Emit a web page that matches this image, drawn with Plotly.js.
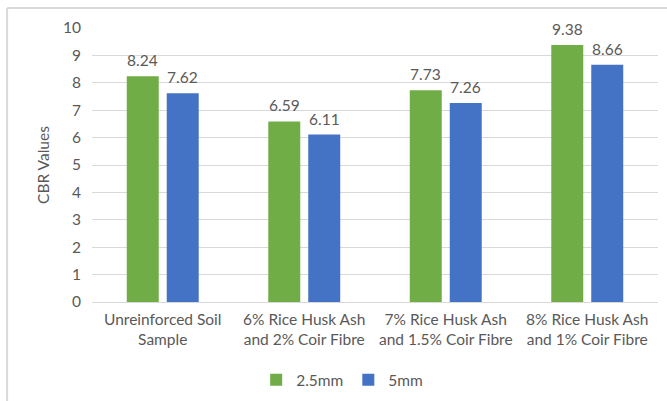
<!DOCTYPE html>
<html>
<head>
<meta charset="utf-8">
<script src="https://cdn.plot.ly/plotly-3.0.1.min.js"></script>
<style>
  html, body { margin: 0; padding: 0; background: #fff; }
  #chart { width: 667px; height: 401px; }
</style>
</head>
<body>
<div id="chart"></div>
<script>
// CBR test results for each soil mix
const categories = [
  "Unreinforced Soil<br>Sample",
  "6% Rice Husk Ash<br>and 2% Coir Fibre",
  "7% Rice Husk Ash<br>and 1.5% Coir Fibre",
  "8% Rice Husk Ash<br>and 1% Coir Fibre"
];
const seriesNames = ["2.5mm", "5mm"];
const cbr25 = [8.24, 6.59, 7.73, 9.38];
const cbr50 = [7.62, 6.11, 7.26, 8.66];
const yTicks = [0, 1, 2, 3, 4, 5, 6, 7, 8, 9, 10];

const FONT = "Lato, 'Open Sans', sans-serif";
const TEXT = "#595959";
const GRID = "#D9D9D9";
const GREEN = "#70AD47";
const BLUE = "#4472C4";

const traces = [
  { type: "bar", name: seriesNames[0], x: categories, y: cbr25,
    marker: { color: GREEN }, hoverinfo: "skip" },
  { type: "bar", name: seriesNames[1], x: categories, y: cbr50,
    marker: { color: BLUE }, hoverinfo: "skip" }
];

// value labels above each bar
const annotations = [];
[cbr25, cbr50].forEach((vals, s) => {
  vals.forEach((v, i) => {
    annotations.push({
      x: categories[i], y: v, xref: "x", yref: "y",
      text: v.toFixed(2), showarrow: false,
      xanchor: "center", yanchor: "bottom",
      xshift: s === 0 ? -20 : 20, yshift: 5,
      font: { family: FONT, size: 15.5, color: TEXT }
    });
  });
});

const layout = {
  width: 667, height: 401,
  margin: { l: 92, r: 9, t: 28, b: 99 },
  paper_bgcolor: "#fff", plot_bgcolor: "#fff",
  barmode: "group", bargap: 0.435, bargroupgap: 0.2,
  font: { family: FONT, size: 15, color: TEXT },
  xaxis: {
    type: "category", showgrid: false, zeroline: false,
    showline: false, ticks: "", ticklabelstandoff: 6, automargin: false,
    tickfont: { family: FONT, size: 15.5, color: TEXT }
  },
  yaxis: {
    range: [0, 10], tickvals: yTicks, ticktext: yTicks.map(String),
    showgrid: true, gridcolor: GRID, gridwidth: 1,
    zeroline: true, zerolinecolor: GRID, zerolinewidth: 1,
    showline: false, ticks: "", ticklabelstandoff: 10, automargin: false,
    tickfont: { family: FONT, size: 15.5, color: TEXT },
    title: { text: "CBR Values", standoff: 9,
             font: { family: FONT, size: 15.5, color: TEXT } }
  },
  legend: {
    orientation: "h", x: 0.442, xanchor: "center",
    yref: "container", y: 0.052, yanchor: "middle",
    font: { family: FONT, size: 15.5, color: TEXT },
    itemwidth: 30, traceorder: "normal"
  },
  annotations: annotations,
  shapes: [
    // chart frame
    { type: "line", xref: "paper", yref: "paper",
      x0: -0.15, x1: -0.15, y0: 1.073, y1: -0.5,
      line: { color: GRID, width: 2 } },
    { type: "line", xref: "paper", yref: "paper",
      x0: -0.15, x1: 1.1, y0: 1.073, y1: 1.073,
      line: { color: GRID, width: 2 } }
  ],
  showlegend: true
};

Plotly.newPlot("chart", traces, layout, { displayModeBar: false, staticPlot: true });
</script>
</body>
</html>
